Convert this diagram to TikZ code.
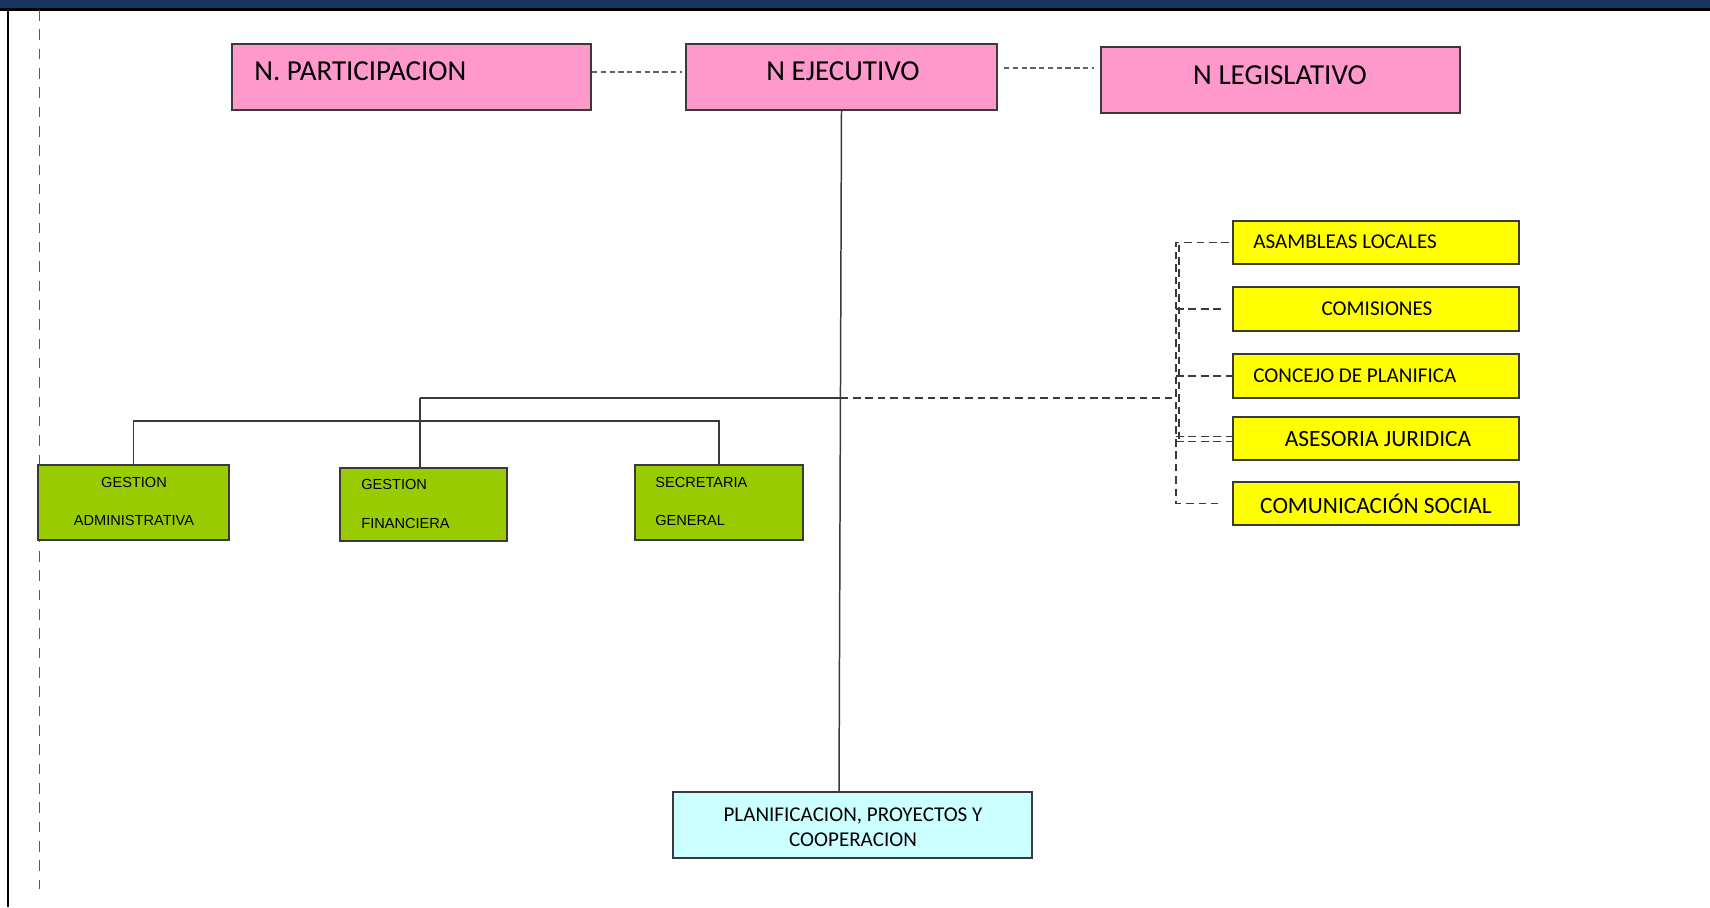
\documentclass[tikz,border=0pt]{standalone}
\usepackage{fontspec}
\setmainfont{Carlito}
\newfontfamily\arialf{Liberation Sans}
\usetikzlibrary{calc}
\definecolor{pinkbox}{HTML}{FF99CC}
\definecolor{greenbox}{HTML}{99CC00}
\definecolor{yellowbox}{HTML}{FFFF00}
\definecolor{cyanbox}{HTML}{CCFFFF}
\definecolor{barblue}{HTML}{17375E}
\definecolor{edge}{HTML}{3A3A3A}
\begin{document}
\begin{tikzpicture}[x=0.02cm,y=-0.02cm,
  box/.style={draw=edge,line width=0.9pt,inner sep=0pt,outer sep=0pt},
  pinkb/.style={box,fill=pinkbox,minimum width=7.18cm,minimum height=1.32cm},
  greenb/.style={box,fill=greenbox,minimum height=1.5cm},
  yellowb/.style={box,fill=yellowbox,minimum width=5.72cm,minimum height=0.87cm},
  conn/.style={draw=edge,line width=0.85pt},
  topdash/.style={draw=edge!80,line width=1pt,dash pattern=on 3pt off 2pt},
  rdash/.style={draw=edge,line width=0.9pt,dash pattern=on 4.3pt off 2.8pt},
  framedash/.style={draw=black!65,line width=0.5pt,dash pattern=on 6pt off 5pt},
  bigtxt/.style={font=\fontsize{16.5}{19}\selectfont,inner sep=0pt},
  ytxt/.style={font=\fontsize{12}{14}\selectfont,inner sep=0pt},
  ytxtb/.style={font=\fontsize{13.3}{15}\selectfont,inner sep=0pt},
  gtxt/.style={font=\arialf\fontsize{8.3}{22.1}\selectfont,inner sep=0pt},
  ptxt/.style={font=\fontsize{12}{14.2}\selectfont,inner sep=0pt,align=center}]
\useasboundingbox (0,0) rectangle (1710,907);
\fill[white] (0,0) rectangle (1710,907);
% top bar and frame
\fill[barblue] (0,0) rectangle (1710,8);
\fill[black] (0,8) rectangle (1710,10.5);
\coordinate (ftop) at (8,10);
\coordinate (fbot) at (8,907);
\draw[line width=1.1pt] (ftop) -- (fbot);
\coordinate (dtop) at (39,10);
\coordinate (dbot) at (39,889);
\draw[framedash] (dtop) -- (dbot);

% top level boxes
\node[pinkb] (part) at (411.5,77) {};
\node[pinkb,minimum width=6.22cm] (ejec) at (841.5,77) {};
\node[pinkb] (leg) at (1280.5,80) {};
\node[bigtxt,anchor=west] (tpart) at (254,71) {N. PARTICIPACION};
\node[bigtxt] (tejec) at (843,71) {N EJECUTIVO};
\node[bigtxt] (tleg) at (1280,75) {N LEGISLATIVO};

% green boxes
\node[greenb,minimum width=3.82cm] (ga) at (133.5,502.5) {};
\node[greenb,minimum width=3.34cm,minimum height=1.46cm] (gf) at (423.5,504.5) {};
\node[greenb,minimum width=3.36cm] (sg) at (719,502.5) {};
\node[gtxt,align=center] (tga) at (134,501.5) {GESTION\\ADMINISTRATIVA};
\node[gtxt,align=left,anchor=west] (tgf) at (361,504) {GESTION\\FINANCIERA};
\node[gtxt,align=left,anchor=west] (tsg) at (655,501.5) {SECRETARIA\\GENERAL};

% cyan box
\node[box,fill=cyanbox,minimum width=7.18cm,minimum height=1.32cm] (plan) at (852.5,825) {};
\node[ptxt] (tplan) at (853,827.5) {PLANIFICACION, PROYECTOS Y\\COOPERACION};

% yellow boxes
\node[yellowb] (al) at (1376,242.5) {};
\node[yellowb] (co) at (1376,309) {};
\node[yellowb] (cp) at (1376,376) {};
\node[yellowb] (aj) at (1376,438.5) {};
\node[yellowb] (cs) at (1376,503.5) {};
\node[ytxt,anchor=west] (tal) at (1253,242) {ASAMBLEAS LOCALES};
\node[ytxt] (tco) at (1377,309) {COMISIONES};
\node[ytxt,anchor=west] (tcp) at (1253,376) {CONCEJO DE PLANIFICA};
\node[ytxtb] (taj) at (1378,439) {ASESORIA JURIDICA};
\node[ytxtb] (tcs) at (1376,504) {COMUNICACIÓN SOCIAL};

% top connectors
\draw[topdash] ($(part.east)+(1,-5)$) -- ($(ejec.west)+(-4,-5)$);
\draw[topdash] ($(ejec.east)+(7,-9)$) -- ($(leg.west)+(-7,-12)$);

% main vertical
\draw[conn] (ejec.south) -- ($(plan.north)+(-13.5,0)$);

% left tree
\coordinate (jl) at (420,398);
\coordinate (jm) at (840.5,398);
\coordinate (jr) at (1176,398);
\coordinate (hb) at (420,421);
\draw[conn] (jl) -- (jm);
\draw[conn] (jl) -- (jl |- gf.north);
\draw[conn] (ga.north) |- (hb) -| (sg.north);

% right dashed tree
\draw[rdash] (jm) -- (jr);
\draw[rdash] ($(al.west)+(-4,0)$) -- (al.west -| jr) -- (cs.west -| jr) -- ($(cs.west)+(-15,0)$);
\draw[rdash] ($(al.west -| jr)+(3,2)$) -- ($(aj.west -| jr)+(3,3)$);
\draw[rdash] (co.west -| jr) -- ($(co.west)+(-11,0)$);
\draw[rdash] (cp.west -| jr) -- (cp.west);
\draw[rdash] ($(aj.west -| jr)+(0,-2)$) -- ($(aj.west)+(0,-2)$);
\draw[rdash] ($(aj.west -| jr)+(0,3)$) -- ($(aj.west)+(0,3)$);
\end{tikzpicture}
\end{document}
